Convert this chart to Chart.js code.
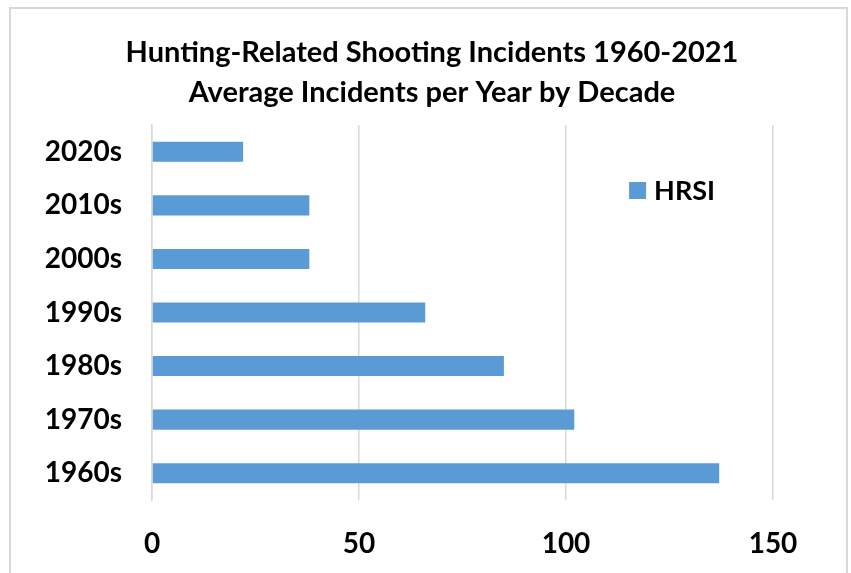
<!DOCTYPE html>
<html>
<head>
<meta charset="utf-8">
<script src="https://cdn.jsdelivr.net/npm/chart.js@4/dist/chart.umd.min.js"></script>
<style>
  html, body { margin: 0; padding: 0; background: #fff; overflow: hidden; }
  #wrap { position: relative; width: 851px; height: 573px; }
  #frame { position: absolute; left: 9px; top: 7px; width: 839px; height: 600px; border: 2px solid #d9d9d9; box-sizing: border-box; pointer-events: none; }
  canvas { position: absolute; left: 0; top: 0; }
</style>
</head>
<body>
<div id="wrap">
  <canvas id="c" width="851" height="573"></canvas>
  <div id="frame"></div>
</div>
<script>
const categories = ['2020s', '2010s', '2000s', '1990s', '1980s', '1970s', '1960s'];
const hrsiValues = [22, 38, 38, 66, 85, 102, 137];
const xTicks = [0, 50, 100, 150];
const seriesLabel = 'HRSI';
const titleLines = ['Hunting-Related Shooting Incidents 1960-2021', 'Average Incidents per Year by Decade'];

const FONT = "Lato, 'Open Sans', 'DejaVu Sans', sans-serif";
const BLUE = '#5b9bd5';

const titleAndLegend = {
  id: 'titleAndLegend',
  afterDraw(chart) {
    const ctx = chart.ctx;
    ctx.save();
    // title
    ctx.fillStyle = '#000';
    ctx.font = 'bold 29px ' + FONT;
    ctx.textAlign = 'center';
    ctx.textBaseline = 'middle';
    ctx.fillText(titleLines[0], 432, 53);
    ctx.fillText(titleLines[1], 432, 93);
    // legend inside plot area
    const ds = chart.data.datasets[0];
    const x = chart.scales.x.getPixelForValue(115);
    const y = 190;
    ctx.fillStyle = ds.backgroundColor;
    ctx.fillRect(x + 1, y - 8, 17, 17);
    ctx.fillStyle = '#000';
    ctx.font = 'bold 27px ' + FONT;
    ctx.textAlign = 'left';
    ctx.fillText(ds.label, x + 26, y + 1);
    ctx.restore();
  }
};

new Chart(document.getElementById('c'), {
  type: 'bar',
  data: {
    labels: categories,
    datasets: [{
      label: seriesLabel,
      data: hrsiValues,
      backgroundColor: BLUE,
      borderWidth: 0,
      barPercentage: 0.375,
      categoryPercentage: 1.0
    }]
  },
  options: {
    indexAxis: 'y',
    responsive: false,
    animation: false,
    devicePixelRatio: 1,
    layout: { padding: { top: 125, left: 12, right: 78, bottom: 0 } },
    plugins: {
      legend: { display: false },
      tooltip: { enabled: false },
      title: { display: false }
    },
    scales: {
      x: {
        min: 0, max: 150,
        afterBuildTicks(scale) { scale.ticks = xTicks.map(v => ({ value: v })); },
        grid: { color: '#d9d9d9', lineWidth: 1.5, drawTicks: false },
        border: { display: false },
        ticks: { color: '#000', padding: 27, font: { family: FONT, size: 28, weight: 'bold' } },
        afterFit(scale) { scale.height = 73; }
      },
      y: {
        grid: { display: false, drawTicks: false },
        border: { display: true, color: '#d9d9d9', width: 1.5 },
        ticks: { color: '#000', padding: 30, font: { family: FONT, size: 28, weight: 'bold' } },
        afterFit(scale) { scale.width = 140; }
      }
    }
  },
  plugins: [titleAndLegend]
});
</script>
</body>
</html>
